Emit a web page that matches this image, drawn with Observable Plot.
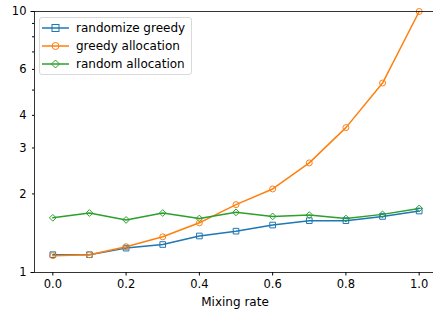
<!DOCTYPE html>
<html>
<head>
<meta charset="utf-8">
<script src="https://cdn.jsdelivr.net/npm/d3@7"></script>
<script src="https://cdn.jsdelivr.net/npm/@observablehq/plot@0.6"></script>
<style>
  html, body { margin: 0; padding: 0; background: white; overflow: hidden; }
  #wrap { position: relative; width: 433px; height: 313px; font-family: "DejaVu Sans", sans-serif; }
  #legend { position: absolute; left: 39px; top: 17px; width: 153px; height: 58px;
    border: 1px solid #d9d9d9; border-radius: 3px; background: rgba(255,255,255,0.8); box-sizing: border-box; }
  .row { position: absolute; left: 0; height: 18px; display: flex; align-items: center; font-size: 12px; color: #000; white-space: nowrap; }
  .row svg { margin-left: 2px; margin-right: 7px; }
</style>
</head>
<body>
<div id="wrap"></div>
<script>
const mixingRate = [0.0, 0.1, 0.2, 0.3, 0.4, 0.5, 0.6, 0.7, 0.8, 0.9, 1.0];
const randomizeGreedy = [1.17, 1.17, 1.24, 1.28, 1.38, 1.44, 1.52, 1.58, 1.58, 1.64, 1.72];
const greedyAllocation = [1.16, 1.17, 1.255, 1.37, 1.55, 1.82, 2.09, 2.63, 3.59, 5.32, 10.0];
const randomAllocation = [1.62, 1.69, 1.59, 1.69, 1.61, 1.70, 1.64, 1.66, 1.61, 1.67, 1.76];
const seriesNames = ["randomize greedy", "greedy allocation", "random allocation"];
const seriesColors = ["#1f77b4", "#ff7f0e", "#2ca02c"];
const seriesSymbols = ["square", "circle", "diamond2"];
const seriesR = [3.95, 3.5, 3.6];
const xTicks = [0.0, 0.2, 0.4, 0.6, 0.8, 1.0];
const yMajorTicks = [1, 10];
const yMinorLabeled = [2, 3, 4, 6];
const yMinorUnlabeled = [5, 7, 8, 9];
const xLabel = "Mixing rate";

const seriesValues = [randomizeGreedy, greedyAllocation, randomAllocation];
const data = [];
seriesNames.forEach((name, i) => {
  mixingRate.forEach((x, j) => data.push({series: name, x, y: seriesValues[i][j], idx: i}));
});

const plot = Plot.plot({
  width: 433,
  height: 313,
  marginTop: 11,
  marginBottom: 41,
  marginLeft: 34,
  marginRight: 0,
  style: {fontFamily: "DejaVu Sans", fontSize: "11.5px", color: "#000", background: "white", overflow: "hidden"},
  x: {type: "linear", domain: [-0.05, 1.05], range: [34, 437]},
  y: {type: "log", domain: [1, 10]},
  marks: [
    Plot.axisX({ticks: xTicks, tickSize: 3.5, tickPadding: 4, tickFormat: d3.format(".1f"), label: null, fontSize: 11.5}),
    Plot.axisY({ticks: yMajorTicks, tickSize: 3.5, tickPadding: 4.5, tickFormat: d => String(d), label: null, fontSize: 11.5}),
    Plot.axisY({ticks: yMinorLabeled, tickSize: 2, tickPadding: 6, tickFormat: d => String(d), label: null, fontSize: 11.5}),
    Plot.axisY({ticks: yMinorUnlabeled, tickSize: 2, tickFormat: () => "", label: null}),
    Plot.line(data, {x: "x", y: "y", z: "series", stroke: d => seriesColors[d.idx], strokeWidth: 1.5}),
    Plot.dot(data, {x: "x", y: "y", symbol: d => seriesSymbols[d.idx], r: d => seriesR[d.idx], stroke: d => seriesColors[d.idx], fill: "none", strokeWidth: 1}),
    Plot.ruleX([-0.05], {stroke: "#000", strokeWidth: 0.8}),
    Plot.ruleX([1.05], {stroke: "#000", strokeWidth: 0.8}),
    Plot.ruleY([1], {x1: -0.05, x2: 1.05, stroke: "#000", strokeWidth: 0.8}),
    Plot.ruleY([10], {x1: -0.05, x2: 1.05, stroke: "#000", strokeWidth: 0.8}),
    Plot.text([xLabel], {frameAnchor: "bottom", lineAnchor: "middle", dx: 1, dy: 30, text: d => d, fontSize: 12, fill: "#000"})
  ]
});
plot.setAttribute("style", plot.getAttribute("style") + ";overflow:hidden;");
const wrap = document.getElementById("wrap");
wrap.appendChild(plot);

// Legend (inside plot, upper-left, matplotlib style)
const legend = document.createElement("div");
legend.id = "legend";
const markerPaths = [
  '<rect x="10" y="5.5" width="7" height="7" fill="none" stroke-width="1"/>',
  '<circle cx="13.5" cy="9" r="3.5" fill="none" stroke-width="1"/>',
  '<path d="M13.5 5 L17.5 9 L13.5 13 L9.5 9 Z" fill="none" stroke-width="1"/>'
];
seriesNames.forEach((name, i) => {
  const row = document.createElement("div");
  row.className = "row";
  row.style.top = (1 + i * 18) + "px";
  row.innerHTML = `<svg width="27" height="18" style="overflow:visible"><g stroke="${seriesColors[i]}"><line x1="0" y1="9" x2="27" y2="9" stroke-width="1.5"/>${markerPaths[i]}</g></svg><span>${name}</span>`;
  legend.appendChild(row);
});
wrap.appendChild(legend);
</script>
</body>
</html>
